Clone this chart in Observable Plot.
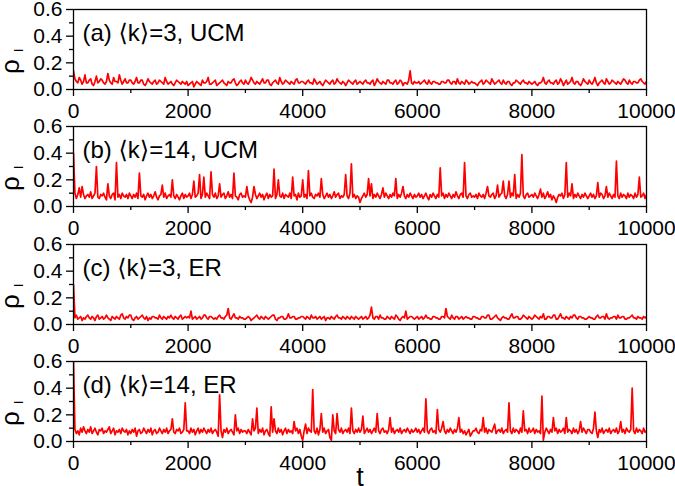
<!DOCTYPE html>
<html>
<head>
<meta charset="utf-8">
<script src="https://cdn.jsdelivr.net/npm/d3@7"></script>
<script src="https://cdn.jsdelivr.net/npm/@observablehq/plot@0.6"></script>
<style>
  body { margin: 0; background: #fff; }
  #chart { position: relative; width: 675px; height: 486px; overflow: hidden; background: #fff; }
  #chart svg { position: absolute; left: 0; }
</style>
</head>
<body>
<div id="chart"></div>
<script>
// sampling step of the time series (t = 0 .. 10000)
const tStep = 25;

// (a) <k>=3, UCM
const rhoA = [
  .14,.08,.06,.05,.09,.07,.04,.06,.11,.05, .05,.07,.08,.04,.03,.06,.10,.05,.06,.08,
  .07,.05,.04,.06,.12,.07,.05,.04,.09,.06, .06,.05,.11,.07,.04,.06,.08,.05,.05,.07,
  .07,.05,.04,.06,.09,.05,.05,.07,.07,.04, .03,.05,.08,.06,.05,.04,.06,.07,.04,.05,
  .07,.06,.05,.04,.09,.06,.04,.05,.06,.04, .03,.05,.07,.06,.05,.04,.06,.05,.04,.06,
  .03,.04,.05,.06,.02,.04,.06,.05,.04,.03, .07,.05,.05,.06,.09,.04,.04,.05,.06,.07,
  .03,.04,.05,.06,.07,.05,.04,.03,.06,.05, .05,.07,.08,.05,.03,.04,.06,.07,.05,.04,
  .07,.05,.04,.06,.09,.07,.05,.04,.06,.05, .04,.06,.08,.05,.05,.07,.07,.04,.03,.05,
  .06,.07,.05,.04,.09,.06,.04,.05,.07,.06, .05,.04,.06,.05,.04,.07,.08,.05,.05,.06,
  .06,.05,.04,.06,.07,.05,.05,.04,.08,.06, .04,.05,.06,.04,.03,.05,.07,.06,.05,.04,
  .06,.07,.04,.05,.08,.06,.05,.04,.06,.05, .03,.05,.07,.06,.05,.04,.06,.07,.04,.05,
  .06,.05,.04,.06,.07,.05,.05,.04,.06,.07, .03,.05,.08,.06,.05,.04,.06,.05,.04,.07,
  .07,.05,.05,.04,.06,.07,.04,.05,.07,.06, .03,.05,.05,.04,.07,.14,.05,.04,.06,.05,
  .05,.06,.04,.05,.06,.07,.05,.04,.07,.05, .04,.06,.06,.05,.05,.04,.04,.06,.06,.05,
  .05,.07,.07,.05,.04,.06,.06,.04,.08,.05, .04,.06,.05,.04,.07,.06,.04,.05,.06,.05,
  .05,.04,.03,.05,.06,.07,.04,.05,.07,.06, .05,.04,.08,.06,.04,.05,.06,.07,.05,.04,
  .07,.05,.04,.06,.06,.04,.03,.05,.05,.07, .06,.05,.04,.06,.07,.05,.05,.04,.06,.05,
  .04,.05,.06,.04,.03,.05,.05,.06,.09,.05, .04,.06,.07,.05,.05,.04,.06,.07,.04,.05,
  .08,.06,.03,.05,.07,.04,.05,.06,.09,.05, .04,.06,.06,.04,.03,.05,.08,.06,.05,.04,
  .07,.05,.04,.06,.09,.05,.03,.05,.06,.07, .05,.04,.08,.06,.04,.05,.07,.06,.05,.04,
  .06,.05,.04,.06,.08,.07,.05,.04,.07,.05, .04,.06,.06,.05,.05,.07,.08,.06,.05,.04,
  .06
];

// (b) <k>=14, UCM
const rhoB = [
  .40,.10,.06,.09,.14,.07,.15,.09,.06,.08, .09,.07,.11,.06,.08,.10,.30,.07,.06,.09,
  .08,.10,.07,.05,.17,.08,.06,.09,.10,.05, .33,.07,.09,.06,.10,.08,.07,.09,.06,.10,
  .08,.06,.09,.07,.10,.06,.25,.08,.07,.09, .05,.08,.10,.07,.09,.06,.08,.11,.07,.05,
  .08,.09,.16,.07,.10,.06,.08,.09,.07,.20, .08,.06,.09,.07,.05,.08,.10,.06,.09,.07,
  .08,.10,.06,.09,.19,.07,.08,.10,.24,.06, .09,.22,.07,.10,.08,.06,.26,.09,.07,.10,
  .06,.08,.17,.07,.09,.10,.06,.08,.11,.07, .09,.06,.25,.08,.07,.05,.09,.10,.07,.08,
  .07,.15,.08,.05,.03,.07,.15,.09,.06,.08, .10,.07,.09,.05,.08,.10,.06,.09,.07,.08,
  .28,.06,.09,.20,.08,.07,.10,.06,.09,.08, .07,.10,.06,.22,.08,.09,.05,.10,.07,.08,
  .20,.07,.09,.06,.27,.08,.10,.07,.06,.09, .08,.10,.07,.21,.09,.06,.08,.10,.07,.09,
  .06,.08,.11,.07,.09,.10,.06,.08,.07,.09, .24,.08,.06,.10,.32,.07,.09,.06,.08,.07,
  .03,.06,.08,.10,.07,.09,.21,.08,.17,.06, .09,.07,.10,.08,.06,.09,.14,.07,.10,.08,
  .06,.09,.07,.10,.08,.21,.06,.09,.07,.10, .15,.08,.06,.09,.07,.10,.08,.06,.09,.07,
  .08,.10,.07,.09,.06,.08,.10,.07,.05,.09, .07,.10,.08,.06,.09,.07,.29,.08,.10,.06,
  .09,.07,.10,.08,.06,.09,.07,.11,.08,.06, .09,.10,.07,.33,.08,.06,.09,.10,.07,.08,
  .07,.09,.06,.10,.08,.07,.09,.06,.10,.15, .08,.07,.09,.10,.06,.08,.16,.07,.09,.10,
  .19,.08,.06,.09,.19,.07,.10,.08,.24,.06, .09,.07,.10,.39,.08,.06,.09,.10,.07,.08,
  .09,.07,.10,.08,.06,.09,.13,.07,.10,.06, .08,.11,.07,.09,.05,.08,.06,.03,.07,.09,
  .08,.10,.06,.09,.33,.07,.10,.08,.17,.06, .09,.07,.10,.08,.06,.09,.07,.10,.08,.06,
  .08,.10,.07,.09,.06,.08,.18,.07,.10,.09, .06,.08,.15,.07,.10,.08,.06,.09,.07,.34,
  .08,.06,.10,.07,.09,.08,.06,.10,.07,.09, .08,.06,.10,.07,.09,.22,.07,.08,.10,.06,
  .09
];

// (c) <k>=3, ER
const rhoC = [
  .30,.05,.07,.04,.05,.06,.03,.05,.04,.06, .07,.05,.04,.06,.05,.03,.06,.07,.04,.05,
  .06,.04,.05,.07,.05,.04,.03,.06,.05,.04, .06,.05,.04,.07,.08,.05,.04,.06,.05,.07,
  .07,.04,.03,.05,.06,.04,.05,.06,.07,.05, .04,.06,.03,.05,.04,.06,.06,.05,.05,.04,
  .07,.05,.04,.06,.05,.04,.06,.05,.07,.05, .04,.06,.05,.04,.06,.07,.04,.05,.06,.05,
  .06,.05,.10,.04,.05,.06,.04,.05,.06,.04, .05,.07,.07,.05,.04,.06,.06,.05,.04,.05,
  .04,.06,.07,.05,.05,.04,.06,.07,.12,.05, .04,.06,.08,.05,.05,.04,.06,.05,.05,.04,
  .04,.05,.06,.05,.03,.04,.05,.06,.07,.05, .04,.06,.05,.04,.06,.05,.04,.05,.06,.07,
  .07,.04,.03,.05,.05,.06,.06,.04,.04,.05, .08,.05,.05,.06,.06,.04,.04,.05,.05,.06,
  .06,.05,.04,.06,.05,.04,.07,.05,.05,.06, .04,.05,.06,.04,.05,.06,.03,.05,.05,.04,
  .06,.05,.04,.06,.07,.05,.05,.04,.06,.05, .04,.06,.05,.04,.06,.05,.04,.06,.05,.04,
  .05,.06,.04,.05,.06,.04,.05,.07,.13,.05, .04,.06,.06,.04,.07,.05,.05,.04,.04,.06,
  .05,.04,.06,.05,.04,.07,.06,.04,.03,.05, .06,.05,.10,.04,.05,.06,.06,.05,.04,.05,
  .06,.04,.05,.06,.04,.05,.07,.05,.05,.04, .04,.06,.06,.05,.05,.04,.04,.06,.06,.05,
  .12,.06,.05,.04,.07,.05,.04,.06,.06,.04, .05,.06,.04,.05,.06,.05,.05,.04,.04,.06,
  .06,.05,.05,.04,.04,.06,.06,.05,.05,.07, .07,.04,.04,.05,.06,.07,.05,.04,.03,.05,
  .06,.05,.05,.04,.04,.06,.08,.05,.05,.06, .06,.04,.04,.05,.07,.06,.05,.04,.06,.05,
  .04,.05,.07,.06,.05,.04,.06,.05,.08,.04, .04,.06,.06,.05,.05,.07,.07,.04,.04,.06,
  .08,.05,.05,.04,.06,.05,.04,.06,.05,.07, .07,.05,.04,.06,.06,.05,.05,.04,.04,.05,
  .06,.05,.05,.04,.04,.06,.07,.05,.05,.06, .06,.04,.08,.05,.04,.05,.05,.06,.06,.04,
  .07,.05,.05,.06,.06,.04,.04,.05,.05,.06, .07,.05,.05,.04,.06,.05,.05,.04,.06,.05,
  .06
];

// (d) <k>=14, ER
const rhoD = [
  .60,.09,.06,.08,.05,.10,.07,.11,.08,.06, .09,.07,.11,.06,.08,.10,.07,.05,.09,.08,
  .10,.06,.08,.07,.09,.11,.06,.08,.10,.05, .08,.07,.09,.06,.10,.08,.07,.09,.05,.08,
  .06,.09,.07,.10,.04,.08,.09,.06,.07,.10, .08,.06,.09,.07,.10,.05,.08,.09,.06,.07,
  .10,.08,.06,.09,.07,.10,.06,.08,.09,.17, .07,.06,.09,.08,.10,.06,.07,.09,.29,.08,
  .08,.06,.10,.07,.09,.05,.08,.10,.06,.09, .07,.10,.08,.06,.09,.07,.10,.06,.08,.09,
  .07,.04,.35,.08,.03,.09,.07,.10,.06,.08, .09,.07,.05,.20,.08,.10,.06,.09,.07,.08,
  .08,.06,.09,.07,.05,.17,.08,.10,.25,.06, .09,.07,.10,.05,.08,.09,.06,.04,.26,.07,
  .17,.08,.06,.10,.07,.09,.05,.08,.10,.06, .09,.07,.08,.06,.15,.08,.10,.06,.09,.04,
  .01,.08,.13,.06,.10,.08,.07,.39,.08,.06, .10,.05,.09,.21,.07,.10,.06,.08,.09,.03,
  .01,.20,.08,.06,.21,.09,.07,.10,.06,.08, .09,.07,.10,.06,.25,.08,.06,.09,.07,.10,
  .07,.09,.19,.06,.08,.10,.07,.09,.06,.08, .10,.07,.21,.08,.06,.09,.10,.07,.08,.06,
  .09,.18,.07,.10,.06,.08,.09,.07,.10,.06, .08,.09,.07,.10,.08,.06,.09,.07,.08,.10,
  .07,.09,.06,.08,.10,.07,.32,.08,.06,.09, .10,.07,.08,.06,.24,.09,.07,.10,.15,.08,
  .06,.09,.07,.10,.08,.06,.09,.07,.10,.18, .07,.09,.06,.08,.05,.07,.09,.04,.06,.08,
  .08,.10,.07,.06,.09,.08,.18,.07,.10,.06, .09,.08,.07,.10,.13,.06,.08,.09,.07,.10,
  .06,.08,.09,.07,.29,.08,.06,.10,.07,.09, .08,.06,.10,.07,.23,.08,.09,.06,.10,.07,
  .08,.10,.06,.09,.07,.08,.06,.34,.01,.07, .10,.08,.06,.09,.07,.18,.08,.10,.06,.09,
  .07,.08,.10,.06,.18,.07,.09,.08,.06,.10, .07,.09,.06,.08,.15,.07,.10,.08,.06,.09,
  .09,.07,.06,.10,.22,.08,.03,.09,.07,.10, .06,.08,.09,.07,.10,.06,.08,.09,.07,.10,
  .06,.08,.15,.07,.09,.06,.10,.08,.07,.09, .40,.08,.06,.10,.07,.09,.08,.06,.10,.07,
  .08
];

const panelLabels = ["(a) \u27E8k\u27E9=3, UCM", "(b) \u27E8k\u27E9=14, UCM", "(c) \u27E8k\u27E9=3, ER", "(d) \u27E8k\u27E9=14, ER"];
const xMajor = [0, 2000, 4000, 6000, 8000, 10000];
const xMinor = [1000, 3000, 5000, 7000, 9000];
const yMajor = [0, 0.2, 0.4, 0.6];
const yMinor = [0.1, 0.3, 0.5];
const xLabel = "t";

const series = [rhoA, rhoB, rhoC, rhoD];
const panelTops = [0, 117, 235, 352];
const FONT = '"Liberation Sans", Arial, "DejaVu Sans", sans-serif';
const chart = document.getElementById("chart");

series.forEach((vals, i) => {
  const data = vals.map((v, j) => ({t: j * tStep, rho: v}));
  const last = i === series.length - 1;
  const marks = [
    Plot.line(data, {x: "t", y: "rho", stroke: "#ff0000", strokeWidth: 1.7, clip: true}),
    Plot.frame({stroke: "black", strokeWidth: 1.3}),
    Plot.axisX({ticks: xMajor, tickSize: 7, tickPadding: 7, tickFormat: d => String(d), strokeWidth: 1.3, fontSize: 21, label: null}),
    Plot.axisX({ticks: xMinor, tickSize: 4, tickFormat: () => "", strokeWidth: 1.3, label: null}),
    Plot.axisY({ticks: yMajor, tickSize: 7, tickPadding: 4, tickFormat: d => d.toFixed(1), strokeWidth: 1.3, fontSize: 21, label: null}),
    Plot.axisY({ticks: yMinor, tickSize: 4, tickFormat: () => "", strokeWidth: 1.3, label: null}),
    Plot.text([panelLabels[i]], {text: d => d, frameAnchor: "top-left", dx: 9, dy: 31, lineAnchor: "bottom", textAnchor: "start", fontSize: 24, fill: "black"}),
    Plot.text(["\u03C1"], {text: d => d, frameAnchor: "top-left", dx: -54.5, dy: 57, rotate: -90, lineAnchor: "bottom", textAnchor: "middle", fontSize: 26, fill: "black"}),
    Plot.text(["I"], {text: d => d, frameAnchor: "top-left", dx: -51, dy: 41, rotate: -90, lineAnchor: "bottom", textAnchor: "middle", fontSize: 13, fill: "black"})
  ];
  if (last) {
    marks.push(Plot.text([xLabel], {text: d => d, frameAnchor: "bottom", dy: 44, lineAnchor: "bottom", textAnchor: "middle", fontSize: 27, fill: "black"}));
  }
  const svg = Plot.plot({
    width: 675,
    height: last ? 134 : 117,
    marginTop: 9,
    marginBottom: last ? 45 : 28,
    marginLeft: 73,
    marginRight: 29,
    x: {domain: [0, 10000]},
    y: {domain: [0, 0.6]},
    style: {fontFamily: FONT, fontSize: "21px", color: "black", background: "transparent", overflow: "visible"},
    marks
  });
  svg.style.top = panelTops[i] + "px";
  chart.appendChild(svg);
});
</script>
</body>
</html>
